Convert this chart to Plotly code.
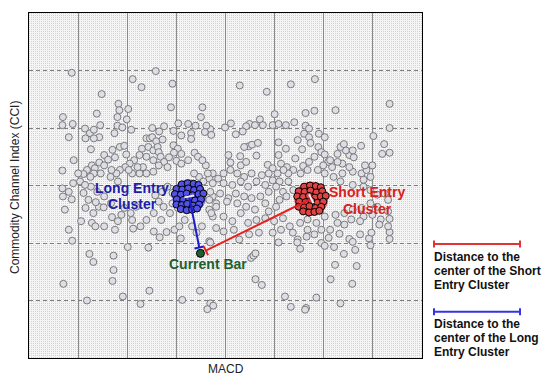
import math
import zlib
import struct
import base64
import plotly.graph_objects as go

# ---------------- data ----------------
X_RANGE = [-4, 4]
Y_RANGE = [-300, 300]

macd = [
    -3.13, -1.42, -1.89, -1.71, -1.08, -2.52, 0.29, 0.84, 1.33, 1.82, 3.34, 2.24, -1.11, -0.47, -2.18, -1.98,
    -2.16, -2.62, -2.20, -2.01, -0.50, -3.31, -3.32, -3.11, -2.55, -3.19, 1.00, 1.63, 1.81, 0.70, 0.49, 0.60,
    0.76, 0.96, 1.08, 1.23, 1.40, 1.63, 1.70, 0.11, 0.42, -0.96, -0.76, -0.61, -1.25, -1.49, -0.31, 3.34,
    3.01, 3.23, 3.34, 3.19, 2.76, -0.39, -2.20,
    -2.86, -2.76, -2.68, -2.57, -2.85, -2.68, -2.26, -2.10, -1.92, -1.35, -1.61, -1.54, -1.49, -1.41, -1.28,
    -1.06, -0.90, -0.70, -0.70, -0.42, -0.29, 0.21, 0.35, -0.01,
    -2.74, -3.09, -2.47, -2.30, -2.15, -2.06, -2.02, -2.25, -2.39, -2.57, -2.72, -2.66, -2.82, -2.89, -3.00, -3.32,
    -1.70, -1.57, -1.47, -1.38, -1.36, -1.32, -1.25, -1.47, -1.61, -1.75, -1.86, -1.95, -2.04, -2.15, -2.22,
    -2.32, -2.47, -2.54, -2.68, -2.75,
    -1.06, -0.97, -0.90, -1.05, -1.15, -1.00, -0.90, -0.63, -0.56, -0.40, -0.47, -0.76, -1.18, -1.36, -1.47,
    -1.61, -1.75, -1.90, -1.97, -1.68, -1.79,
    0.06, 0.30, 0.63, 0.47, 0.54, 0.66, 0.38, 0.10, 0.31, 0.42, 0.86, 1.08, 1.23, 1.08, 1.13, 1.25, 1.42, 1.56,
    1.47, 1.60, 1.70, 1.73, 1.90, 2.02, 1.89, 1.95, 2.02, 1.81, 1.70, 1.58, 1.67, 1.53, 1.38, 1.28, 1.18, 1.06,
    0.96, 0.88, 0.74, 0.63, 0.53, 0.38, 0.24, 0.10, -0.04, -0.15, -0.26, -0.33, -0.04, 0.14, 0.31, 0.46, 0.81,
    0.96, 1.10, 1.28, 1.03, 1.17, 0.88, 0.71, 0.53, 0.38, 0.21, 0.06, -0.11, -0.26, -0.19, 0.03, 0.24, 0.42,
    0.60, 0.81, 0.88, 1.03, 1.10, 1.24, 1.38, -0.33, -0.26, -0.04, 0.14, 0.31, 0.46, 0.63, 0.81, 0.99, 1.17,
    1.31, 1.13, 0.96, 0.68, 0.48, 0.28, 0.17, -0.04, -0.19, -0.33,
    0.52, 0.57, 0.61, 1.08, 1.37, 1.47, 1.65, 1.52, 0.61, 0.74, 1.21, 1.85, 1.33, 1.64, 1.62,
    -0.52, -0.31, -0.37, -0.25, -0.88, -1.55, -1.73, -2.09, -2.82, -3.30, -2.30, -2.28, -2.28, -2.69, -2.77,
    -1.99, -1.57, -0.31, -3.19, -3.12,
    2.14, 2.23, 2.58, 2.67, 2.34, 2.21, 2.41, 2.64, 1.95, 2.10, 2.32, 2.52, 2.74, 2.95, 2.92, 2.97, 3.34, 3.34,
    3.31, 3.34, 3.16, 3.13, 2.99, 2.81, 2.74, 2.56, 2.42, 2.28, 2.13, 1.95, 1.81, 1.67, 1.52, 1.67, 1.85, 2.02,
    2.24, 2.42, 2.59, 2.77, 2.95, 3.09, 3.31, 3.31, 3.24, 3.09, 2.95, 2.81, 2.59, 2.34, 2.20, 2.38, 2.59, 2.77,
    2.87, 2.99, 2.84, 2.95, 2.81, 2.52, 2.38, 2.28, 2.17, 2.09, 1.99, 1.88, 2.02, 2.52, 2.45, 2.34, 2.41, 2.59,
    2.61, 2.28, 2.13, 2.02, 2.59, 1.46,
    -3.32, -3.10, -3.19, -3.13, -3.31, -3.27, -2.94, -2.85, -2.69, -2.58, -2.79, -2.89, -2.74, -2.61, -2.47,
    -2.33, -2.48, -2.64, -2.72, -2.65, -2.47, -2.31, -2.19, -2.25, -2.12, -2.06, -1.93, -1.82, -1.90, -1.88,
    -1.73, -1.61, -1.46, -1.31, -1.46, -1.34, -1.20, -1.04, -0.91, -0.94, -0.83, -0.68, -0.59, -0.48, -1.13,
    -1.26, -1.36, -1.43, -1.29, -1.18, -1.08, -1.08, -0.97, -0.29, -0.19, -0.33, -0.31, -0.26, -0.36, -0.54,
    -0.64, -0.45, -2.19, -2.96, -2.86, -2.34,
]

cci = [
    196, 199, 185, 171, 177, 159, 174, 163, 176, 185, 142, 131, 136, 136, 142, 133,
    131, 125, 119, 115, 119, 119, 105, 107, 105, 84, 124, 126, 130, 115, 107, 105,
    105, 105, 107, 105, 110, 104, 99, 108, 103, 108, 107, 104, 103, 100, 98, 100,
    86, 72, 57, 55, 69, 104, 104,
    99, 91, 97, 84, 82, 82, 91, 101, 97, 94, 82, 82, 84, 77, 80,
    95, 87, 91, 81, 93, 88, 89, 94, 101,
    63, 44, 53, 62, 67, 69, 54, 49, 45, 40, 35, 30, 27, 20, 21, 26,
    64, 67, 61, 67, 58, 50, 41, 44, 50, 53, 44, 38, 32, 27, 21,
    27, 35, 21, 21, 15,
    70, 64, 55, 57, 49, 43, 38, 57, 50, 35, 44, 44, 32, 35, 24,
    21, 21, 21, 27, 32, 32,
    53, 51, 52, 68, 71, 74, 67, 40, 35, 41, 36, 75, 64, 53, 38, 32, 47, 63,
    79, 90, 84, 74, 90, 84, 67, 58, 54, 50, 41, 34, 27, 21, 27, 21, 27, 21,
    30, 21, 18, 7, 21, 15, 21, 27, 21, 12, 21, 12, 4, 1, 7, -2, 1,
    9, 7, 7, -2, -11, -11, -19, -22, -19, -14, -22, -14, -19, -31, -28, -31, -37,
    -42, -31, -45, -37, -25, -19, -8, -42, -54, -54, -62, -48, -65, -60, -57, -62, -57,
    -71, -77, -82, -82, -85, -94, -77, -80, -74, -97,
    -126, -122, -118, -99, -82, -94, -89, -110, -163, -173, -193, -195, -211, -213, -216,
    -183, -205, -215, -209, -199, -183, -206, -193, -200, -171, -166, -147, -122, -133, -119,
    -107, -108, -99, -77, -96,
    -163, -138, -171, -140, -205, -107, -119, -112, -100, -91, -84, -93, -85, -104, -92, -82, -93, -81,
    -71, -58, -59, -68, -51, -54, -62, -59, -68, -65, -77, -77, -85, -77, -65, -59, -65, -54,
    -51, -48, -42, -39, -31, -37, -45, -25, -14, -16, -8, -2, 1, 7, 15, 21, 24, 21,
    27, 35, 35, 15, 10, 32, 38, 41, 32, 41, 35, 27, 21, 53, 61, 67, 72, 61,
    49, 55, 44, -105, -98, -99,
    -5, 4, -11, -24, -19, -42, -62, -39, -48, -37, -25, -13, -2, -11, -19,
    -31, -38, -29, -65, -71, -71, -55, -62, -77, -51, -39, -48, -37, -60, -75,
    -71, -60, -48, -60, -80, -90, -81, -77, -92, -71, -60, -71, -82, -71, -48,
    -37, -28, -17, -11, -2, -13, -31, -39, -48, -37, -25, -11, 4, 21, 15,
    21, 7, 7, 7, 1, 15,
]

long_macd = [-0.89, -0.77, -0.65, -0.55, -1.00, -0.88, -0.76, -0.64, -0.52, -1.03, -0.91, -0.79, -0.67, -0.55,
             -0.45, -0.99, -0.86, -0.74, -0.62, -0.50, -1.00, -0.89, -0.78, -0.66, -0.54, -0.91, -0.79, -0.68, -0.58]
long_cci = [2, 4, 3, 1, -6, -7, -5, -8, -6, -15, -16, -14, -17, -15, -14, -24, -25, -23, -26, -24,
            -33, -34, -32, -35, -33, -41, -43, -42, -40]

short_macd = [1.60, 1.72, 1.84, 1.94, 1.49, 1.61, 1.73, 1.85, 1.97, 1.46, 1.58, 1.70, 1.82, 1.94, 2.04,
              1.50, 1.63, 1.75, 1.87, 1.99, 1.49, 1.60, 1.71, 1.83, 1.95, 1.58, 1.70, 1.81, 1.91]
short_cci = [-2, 0, -1, -3, -10, -11, -9, -12, -10, -19, -20, -18, -21, -19, -18, -28, -29, -27, -30, -28,
             -37, -38, -36, -39, -37, -45, -47, -46, -44]

long_center = (-0.74, -19)
short_center = (1.745, -23)
current_bar = (-0.51, -118)

# ---------------- layout geometry ----------------
W, H = 549, 382
ML, MR, MT, MB = 29, 127, 13, 24
PW, PH = W - ML - MR, H - MT - MB
SX = PW / (X_RANGE[1] - X_RANGE[0])   # px per MACD unit
SY = PH / (Y_RANGE[1] - Y_RANGE[0])   # px per CCI unit

FONT = "Arial, Liberation Sans, Helvetica, sans-serif"


def px_to_paper(px, py):
    return (px - ML) / PW, (H - MB - py) / PH


# dotted background texture
def make_texture(w, h):
    rows = []
    for yy in range(h):
        row = bytearray()
        for xx in range(w):
            row.append(210 if (yy % 2 == 0 and xx % 2 == 0) else 245)
        rows.append(row)
    raw = b"".join(b"\x00" + bytes(r) for r in rows)

    def chunk(t, d):
        c = struct.pack(">I", len(d)) + t + d
        return c + struct.pack(">I", zlib.crc32(t + d) & 0xFFFFFFFF)

    png = (b"\x89PNG\r\n\x1a\n" + chunk(b"IHDR", struct.pack(">IIBBBBB", w, h, 8, 0, 0, 0, 0))
           + chunk(b"IDAT", zlib.compress(raw)) + chunk(b"IEND", b""))
    return "data:image/png;base64," + base64.b64encode(png).decode()


fig = go.Figure()

# gray observations
fig.add_trace(go.Scatter(
    x=macd, y=cci, mode="markers", hoverinfo="skip",
    marker=dict(size=7, color="#dedee6", line=dict(color="#7a7a7a", width=1)),
))

# cluster disks
for (cx, cy), col in ((long_center, "#6f6ff4"), (short_center, "#ee5c5c")):
    fig.add_trace(go.Scatter(x=[cx], y=[cy], mode="markers", hoverinfo="skip",
                             marker=dict(size=34, color=col, line=dict(width=0))))

# cluster members
fig.add_trace(go.Scatter(x=long_macd, y=long_cci, mode="markers", hoverinfo="skip",
                         marker=dict(size=7, color="#5252e6", line=dict(color="#000000", width=1))))
fig.add_trace(go.Scatter(x=short_macd, y=short_cci, mode="markers", hoverinfo="skip",
                         marker=dict(size=7, color="#e04444", line=dict(color="#000000", width=1))))


# distance lines with end caps
def distance_line(center, color):
    px, py = current_bar
    cx, cy = center
    vx, vy = (cx - px) * SX, (cy - py) * SY
    L = math.hypot(vx, vy)
    t = 6 / L
    ex, ey = px + (cx - px) * t, py + (cy - py) * t
    ang = -math.degrees(math.atan2(vy, vx))
    fig.add_trace(go.Scatter(x=[ex, cx], y=[ey, cy], mode="lines", hoverinfo="skip",
                             line=dict(color=color, width=2)))
    fig.add_trace(go.Scatter(x=[ex], y=[ey], mode="markers", hoverinfo="skip",
                             marker=dict(symbol="line-ns", size=7, angle=ang,
                                         line=dict(color=color, width=2))))
    fig.add_trace(go.Scatter(x=[cx], y=[cy], mode="markers", hoverinfo="skip",
                             marker=dict(symbol="line-ns", size=7, angle=ang,
                                         line=dict(color="#f4f4ff", width=2))))


distance_line(long_center, "#1c1cc8")
distance_line(short_center, "#e42222")

# current bar
fig.add_trace(go.Scatter(x=[current_bar[0]], y=[current_bar[1]], mode="markers", hoverinfo="skip",
                         marker=dict(size=8, color="#1d5e30", line=dict(color="#000000", width=1))))

annotations = []


def label(text, x, y, color, size=14):
    annotations.append(dict(x=x, y=y, xref="x", yref="y", text="<b>%s</b>" % text, showarrow=False,
                            font=dict(family=FONT, size=size, color=color), xanchor="center", yanchor="middle"))


label("Long Entry", -1.91, -4, "#1e1ea6")
label("Cluster", -1.90, -33, "#1e1ea6")
label("Short Entry", 2.89, -11, "#d82020")
label("Cluster", 2.89, -40, "#d82020")
label("Current Bar", -0.35, -137, "#1d5e30")

# axis titles
x0, yt = px_to_paper(0, 369.3)
annotations.append(dict(x=0.5, y=yt, xref="paper", yref="paper", text="MACD", showarrow=False,
                        font=dict(family=FONT, size=12, color="#222222"), xanchor="center", yanchor="middle"))
xt, yc = px_to_paper(15, 188)
annotations.append(dict(x=xt, y=yc, xref="paper", yref="paper", text="Commodity Channel Index (CCI)",
                        showarrow=False, textangle=-90,
                        font=dict(family=FONT, size=12, color="#222222"), xanchor="center", yanchor="middle"))

# legend at right
shapes = []
legend_items = [
    ("#e23434", 244.0, ["Distance to the", "center of the Short", "Entry Cluster"]),
    ("#3434e2", 311.7, ["Distance to the", "center of the Long", "Entry Cluster"]),
]
for color, ly, lines in legend_items:
    xa, ya = px_to_paper(434, ly)
    xb, _ = px_to_paper(520, ly)
    _, yu = px_to_paper(0, ly - 3.5)
    _, yd = px_to_paper(0, ly + 3.5)
    shapes.append(dict(type="line", xref="paper", yref="paper", x0=xa, x1=xb, y0=ya, y1=ya,
                       line=dict(color=color, width=2)))
    for xe in (xa, xb):
        shapes.append(dict(type="line", xref="paper", yref="paper", x0=xe, x1=xe, y0=yd, y1=yu,
                           line=dict(color=color, width=2)))
    for i, txt in enumerate(lines):
        tx, ty = px_to_paper(432, ly + 12.7 + 14 * i)
        annotations.append(dict(x=tx, y=ty, xref="paper", yref="paper", text="<b>%s</b>" % txt,
                                showarrow=False, font=dict(family=FONT, size=12, color="#111111"),
                                xanchor="left", yanchor="middle"))

axis_common = dict(showticklabels=False, ticks="", zeroline=False, showline=True, linecolor="#000000",
                   linewidth=1, mirror=True, fixedrange=True, showgrid=True, gridwidth=1)

fig.update_layout(
    width=W, height=H,
    margin=dict(l=ML, r=MR, t=MT, b=MB, pad=0),
    paper_bgcolor="#ffffff", plot_bgcolor="#e8e8e8",
    showlegend=False,
    xaxis=dict(range=X_RANGE, tick0=0, dtick=1, gridcolor="#8a8a8a", **axis_common),
    yaxis=dict(range=Y_RANGE, tick0=0, dtick=100, gridcolor="#7e7e7e", griddash="4px,3px", **axis_common),
    images=[dict(source=make_texture(PW, PH), xref="paper", yref="paper", x=0, y=1, sizex=1, sizey=1,
                 xanchor="left", yanchor="top", sizing="stretch", layer="below")],
    annotations=annotations,
    shapes=shapes,
)

fig.write_html("out.html", config={"displayModeBar": False, "staticPlot": True},
               post_script="document.body.style.margin='0px';document.body.style.padding='0px';"
                           "document.body.style.overflow='hidden';")
